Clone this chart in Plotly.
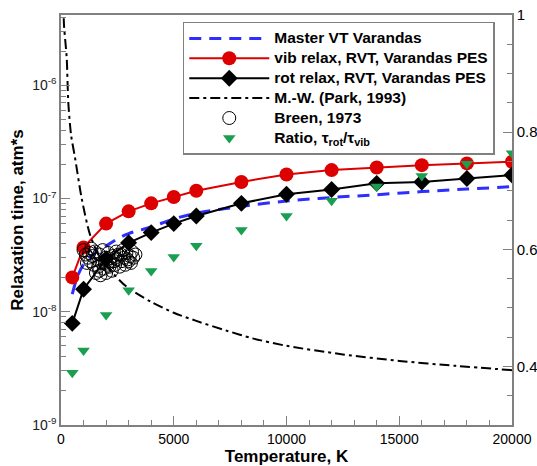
import plotly.graph_objects as go

# ---- data ----
T_master = [500, 750, 1000, 1500, 2000, 2500, 3000, 4000, 5000, 6000, 7000, 8000,
            10000, 12000, 14000, 16000, 18000, 20000]
tau_master = [1.43e-8, 2.1e-8, 2.6e-8, 3.3e-8, 3.8e-8, 4.4e-8, 4.9e-8, 5.6e-8, 6.6e-8,
              7.4e-8, 8.0e-8, 8.5e-8, 9.5e-8, 1.02e-7, 1.08e-7, 1.15e-7, 1.21e-7, 1.27e-7]

T_rvt = [500, 1000, 2000, 3000, 4000, 5000, 6000, 8000, 10000, 12000, 14000, 16000, 18000, 20000]
tau_vib = [2.01e-8, 3.7e-8, 6.0e-8, 7.7e-8, 9.06e-8, 1.03e-7, 1.17e-7, 1.40e-7, 1.63e-7,
           1.78e-7, 1.88e-7, 1.97e-7, 2.04e-7, 2.11e-7]
tau_rot = [7.9e-9, 1.58e-8, 2.93e-8, 4.06e-8, 5.0e-8, 6.0e-8, 7.0e-8, 9.06e-8, 1.09e-7,
           1.20e-7, 1.36e-7, 1.40e-7, 1.50e-7, 1.61e-7]
ratio = [0.389, 0.427, 0.488, 0.530, 0.563, 0.587, 0.606, 0.633, 0.657, 0.683, 0.707,
         0.725, 0.746, 0.764]

T_mw = [100, 133, 253, 324, 450, 621, 918, 1286, 1730, 2300, 2913, 4000, 5000, 6000,
        7350, 8500, 10000, 12500, 15000, 17500, 20000]
tau_mw = [6e-6, 3.4e-6, 1.74e-6, 7.0e-7, 3.6e-7, 2.3e-7, 1.0e-7, 4.8e-8, 3.0e-8, 2.19e-8,
          1.66e-8, 1.22e-8, 9.8e-9, 8.3e-9, 6.8e-9, 5.82e-9, 5.0e-9, 4.2e-9, 3.68e-9,
          3.33e-9, 3.05e-9]

T_breen = [1000, 1100, 1200, 1250, 1300, 1400, 1450, 1500, 1600, 1650, 1700, 1800, 1850,
           1900, 2000, 2050, 2100, 2200, 2250, 2300, 2400, 2450, 2500, 2600, 2650, 2700,
           2800, 2850, 2900, 3000, 3050, 3100, 3200, 3300, 1550, 1750,
           1150, 1350, 1950, 2150, 2350, 2550, 2750, 2950, 3150, 1700, 2000, 2400]
tau_breen = [3.5e-8, 3.2e-8, 3.0e-8, 3.3e-8, 2.8e-8, 3.1e-8, 2.6e-8, 3.4e-8, 2.9e-8,
             2.5e-8, 3.2e-8, 2.7e-8, 3.5e-8, 2.4e-8, 3.0e-8, 2.6e-8, 3.3e-8, 2.8e-8,
             2.3e-8, 3.1e-8, 2.6e-8, 3.4e-8, 2.9e-8, 2.5e-8, 3.2e-8, 2.8e-8, 3.0e-8,
             2.6e-8, 3.3e-8, 2.8e-8, 3.1e-8, 2.7e-8, 3.0e-8, 3.2e-8, 2.2e-8, 2.1e-8,
             2.7e-8, 3.6e-8, 2.7e-8, 2.5e-8, 2.8e-8, 3.2e-8, 3.5e-8, 2.9e-8, 3.4e-8,
             2.3e-8, 2.2e-8, 3.0e-8]

legend_names = ["Master VT Varandas", "vib relax, RVT, Varandas PES",
                "rot relax, RVT, Varandas PES", "M.-W. (Park, 1993)", "Breen, 1973",
                "Ratio, τ<sub>rot</sub>/τ<sub>vib</sub>"]

x_tickvals = [0, 5000, 10000, 15000, 20000]
x_ticktext = ["0", "5000", "10000", "15000", "20000"]
y_tickvals = [1e-9, 1e-8, 1e-7, 1e-6]
y_ticktext = ["10<sup>-9</sup>", "10<sup>-8</sup>", "10<sup>-7</sup>", "10<sup>-6</sup>"]
y2_tickvals = [0.4, 0.6, 0.8, 1.0]
y2_ticktext = ["0.4", "0.6", "0.8", "1"]

FONT = "Liberation Sans, Arial, sans-serif"
AX = "#808080"


def lname(s):
    return '<span style="font-size:15.5px"><b>' + s + '</b></span>'


fig = go.Figure()
fig.add_trace(go.Scatter(x=T_master, y=tau_master, mode="lines", name=lname(legend_names[0]),
                         line=dict(color="#2e2eff", width=3, dash="12px,8px", shape="spline")))
fig.add_trace(go.Scatter(x=T_rvt, y=tau_vib, mode="lines+markers",
                         name=lname(legend_names[1]),
                         line=dict(color="#dd0000", width=2),
                         marker=dict(symbol="circle", size=14, color="#dd0000")))
fig.add_trace(go.Scatter(x=T_rvt, y=tau_rot, mode="lines+markers",
                         name=lname(legend_names[2]),
                         line=dict(color="black", width=2),
                         marker=dict(symbol="diamond", size=13, color="black")))
fig.add_trace(go.Scatter(x=T_mw, y=tau_mw, mode="lines", name=lname(legend_names[3]),
                         line=dict(color="black", width=2, dash="10px,4px,3px,4px", shape="spline",
                                   smoothing=0.8)))
fig.add_trace(go.Scatter(x=T_breen, y=tau_breen, mode="markers", name=lname(legend_names[4]),
                         marker=dict(symbol="circle-open", size=13, color="black",
                                     line=dict(width=1, color="black"))))
fig.add_trace(go.Scatter(x=T_rvt, y=ratio, mode="markers", yaxis="y2",
                         name=lname(legend_names[5]),
                         marker=dict(symbol="triangle-down", size=11, color="#1a9e4f")))

fig.update_layout(
    width=537, height=466,
    margin=dict(l=61, r=25, t=15, b=41, autoexpand=False),
    paper_bgcolor="white", plot_bgcolor="white",
    font=dict(family=FONT, size=14, color="black"),
    showlegend=True,
    legend=dict(x=0.27, y=0.983, xanchor="left", yanchor="top",
                bgcolor="white", bordercolor=AX, borderwidth=1.5,
                font=dict(size=13, family=FONT), tracegroupgap=0, itemwidth=80),
    xaxis=dict(range=[0, 20000], tickvals=x_tickvals, ticktext=x_ticktext, ticks="inside",
               ticklen=9, automargin=False,
               tickcolor=AX, showline=True, linecolor=AX, linewidth=1.5, mirror=True,
               showgrid=False, zeroline=False,
               minor=dict(dtick=1000, ticks="inside", ticklen=5, tickcolor=AX, showgrid=False),
               tickfont=dict(size=14, family=FONT),
               title=dict(text="<b>Temperature, K</b>", font=dict(size=17, family=FONT), standoff=2)),
    yaxis=dict(type="log", range=[-9, -5.38], tickvals=y_tickvals, ticktext=y_ticktext,
               ticks="inside", ticklen=9, tickcolor=AX, showline=True, linecolor=AX,
               linewidth=1.5, showgrid=False, zeroline=False, automargin=False,
               minor=dict(dtick="D1", ticks="inside", ticklen=5, tickcolor=AX, showgrid=False),
               tickfont=dict(size=14, family=FONT, color="#222222"),
               title=dict(text="<b>Relaxation time, atm*s</b>", font=dict(size=17, family=FONT), standoff=4)),
    yaxis2=dict(overlaying="y", side="right", range=[0.3, 1.0], tickvals=y2_tickvals,
                ticktext=y2_ticktext, automargin=False,
                ticks="inside", ticklen=9, tickcolor=AX, showline=True, linecolor=AX,
                linewidth=1.5, showgrid=False, zeroline=False,
                minor=dict(dtick=0.05, ticks="inside", ticklen=5, tickcolor=AX, showgrid=False),
                tickfont=dict(size=15, family=FONT)),
)

fig.write_html("out.html")
